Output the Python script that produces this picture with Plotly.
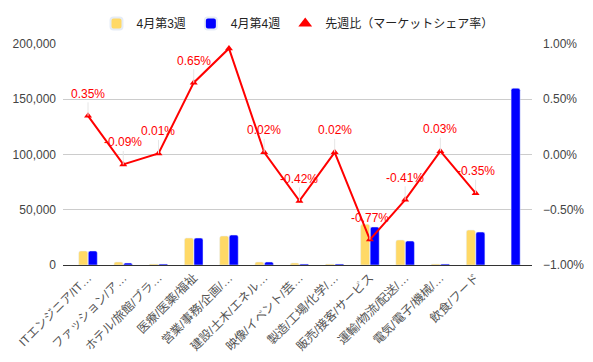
import plotly.graph_objects as go

categories = ["ITエンジニア/IT…", "ファッション/ア…", "ホテル/旅館/ブラ…", "医療/医薬/福祉",
              "営業/事務/企画/…", "建設/土木/エネル…", "映像/イベント/芸…", "製造/工場/化学/…",
              "販売/接客/サービス", "運輸/物流/配送/…", "電気/電子/機械/…", "飲食/フード", " "]
week3 = [12700, 2700, 900, 24400, 26200, 2700, 1800, 900, 36800, 22600, 900, 31600, None]
week4 = [12700, 1800, 900, 24400, 27100, 2700, 900, 900, 34400, 21700, 900, 29800, 160000]
share_change = [0.0035, -0.0009, 0.0001, 0.0065, 0.0096, 0.0002, -0.0042, 0.0002, -0.0077, -0.0041, 0.0003, -0.0035]
share_labels = ["0.35%", "-0.09%", "0.01%", "0.65%", "", "0.02%", "-0.42%", "0.02%", "-0.77%", "-0.41%", "0.03%", "-0.35%"]

FONT = "Liberation Sans, Arial, Noto Sans CJK JP, sans-serif"
fig = go.Figure()
fig.add_trace(go.Bar(x=categories, y=week3, name="4月第3週", marker=dict(color="#FFD966", cornerradius=2)))
fig.add_trace(go.Bar(x=categories, y=week4, name="4月第4週", marker=dict(color="#0000FF", cornerradius=2)))
fig.add_trace(go.Scatter(x=categories[:len(share_change)], y=share_change, yaxis="y2", mode="lines+markers",
                         line=dict(color="#FF0000", width=2), marker=dict(symbol="triangle-up", size=7, color="#FF0000"),
                         showlegend=False, name="先週比（マーケットシェア率）"))
fig.add_trace(go.Scatter(x=[None], y=[None], yaxis="y2", mode="markers", name="先週比（マーケットシェア率）",
                         marker=dict(symbol="triangle-up", size=11, color="#FF0000")))

for c, v, t in zip(categories, share_change, share_labels):
    if not t:
        continue
    fig.add_annotation(x=c, y=v, yref="y2", text=t, showarrow=True, arrowhead=0, arrowwidth=1,
                       arrowcolor="#E6E6E6", ax=0, ay=-22, font=dict(color="#FF0000", size=12, family=FONT))

fig.update_layout(
    width=593, height=362, margin=dict(l=63, r=61, t=44, b=97, autoexpand=False),
    paper_bgcolor="white", plot_bgcolor="white",
    font=dict(family=FONT, size=12, color="#444444"),
    barmode="group", bargap=0.46, bargroupgap=0.05,
    legend=dict(orientation="h", x=0.5, xanchor="center", y=0.975, yanchor="top", yref="container",
                font=dict(size=12, color="#222222"), itemsizing="constant"),
    xaxis=dict(type="category", range=[-0.71, 12.6], tickangle=-45, showgrid=False, showline=True,
               linecolor="#333333", linewidth=1, ticks="", automargin=False,
               tickfont=dict(size=12, color="#555555")),
    yaxis=dict(range=[0, 200000], dtick=50000, tickformat=",", showgrid=True, gridcolor="#CCCCCC",
               zeroline=False, ticks="", ticklabelstandoff=6, automargin=False,
               tickfont=dict(size=12, color="#444444")),
    yaxis2=dict(range=[-0.01, 0.01], dtick=0.005, tickformat=".2%", overlaying="y", side="right",
                showgrid=False, zeroline=False, ticks="", ticklabelstandoff=10, automargin=False,
                tickfont=dict(size=12, color="#444444")),
)
fig.write_html("out.html", config={"displayModeBar": False},
               post_script="document.body.style.margin='0';")
